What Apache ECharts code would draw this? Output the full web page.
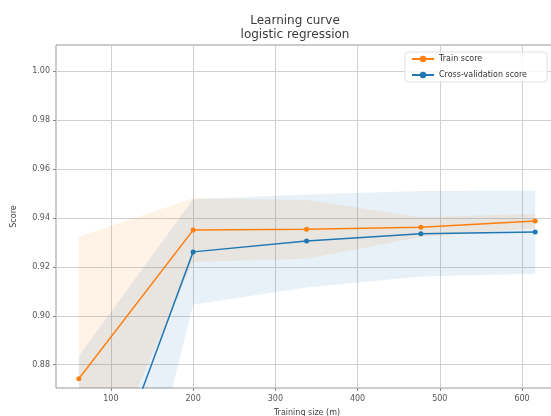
<!DOCTYPE html>
<html>
<head>
<meta charset="utf-8">
<script src="https://cdn.jsdelivr.net/npm/echarts@6/dist/echarts.min.js"></script>
<style>html,body{margin:0;padding:0;background:#fff}#c{width:551px;height:416px}</style>
</head>
<body>
<div id="c"></div>
<script>
const trainSizes = [61, 200, 338, 477, 616];
const trainMean = [0.8743, 0.9350, 0.9353, 0.9362, 0.9387];
const trainStd  = [0.058, 0.013, 0.012, 0.004, 0.003];
const cvMean    = [0.7996, 0.9261, 0.9305, 0.9335, 0.9342];
const cvStd     = [0.084, 0.0215, 0.019, 0.0175, 0.017];
const xTicks = [100, 200, 300, 400, 500, 600];
const yTicks = [0.88, 0.90, 0.92, 0.94, 0.96, 0.98, 1.00];

const ORANGE = '#ff7f0e', BLUE = '#1f77b4';
const pairs = (arr) => trainSizes.map((x, i) => [x, arr[i]]);

function bandSeries(name, mean, std, color) {
  return {
    name: name, type: 'custom', silent: true, z: 1,
    data: [[trainSizes[0], mean[0]]],
    renderItem: function (params, api) {
      const up = trainSizes.map((x, i) => api.coord([x, mean[i] + std[i]]));
      const lo = trainSizes.map((x, i) => api.coord([x, mean[i] - std[i]])).reverse();
      const cs = params.coordSys;
      return {
        type: 'polygon',
        shape: {points: up.concat(lo)},
        style: {fill: color, opacity: 0.1},
        clipPath: {type: 'rect', shape: {x: cs.x, y: cs.y, width: cs.width, height: cs.height}}
      };
    }
  };
}

const font = 'DejaVu Sans';
const chart = echarts.init(document.getElementById('c'), null, {renderer: 'canvas'});
chart.setOption({
  animation: false,
  backgroundColor: '#fff',
  title: {
    text: 'Learning curve\nlogistic regression',
    left: 290, top: 9, textAlign: 'center',
    textStyle: {fontFamily: font, fontSize: 12, fontWeight: 'normal', color: '#3a3a3a', lineHeight: 14}
  },
  legend: {
    data: ['Train score', 'Cross-validation score'],
    orient: 'vertical', left: 405, top: 52,
    itemWidth: 22, itemHeight: 8, itemGap: 8,
    backgroundColor: 'rgba(255,255,255,0.85)', borderColor: '#e0e0e0', borderWidth: 1, borderRadius: 3,
    padding: [3, 20, 3, 6],
    textStyle: {fontFamily: font, fontSize: 8, color: '#333'}
  },
  grid: {left: 56, right: -7, top: 45, bottom: 28, show: true, borderColor: '#999', borderWidth: 1,
         containLabel: false, outerBoundsMode: 'none'},
  xAxis: {
    type: 'value', min: 33.25, max: 643.75,
    name: 'Training size (m)', nameLocation: 'middle', nameGap: 21,
    nameTextStyle: {fontFamily: font, fontSize: 8, color: '#444'},
    axisLine: {show: false},
    axisTick: {show: true, customValues: xTicks, length: 3, lineStyle: {color: '#888'}},
    axisLabel: {customValues: xTicks, fontFamily: font, fontSize: 8, color: '#555', margin: 7},
    splitLine: {show: true, lineStyle: {color: '#d0d0d0', width: 1}}
  },
  yAxis: {
    type: 'value', min: 0.8705, max: 1.0106,
    name: 'Score', nameLocation: 'middle', nameGap: 38, nameRotate: 90,
    nameTextStyle: {fontFamily: font, fontSize: 8, color: '#444'},
    axisLine: {show: false},
    axisTick: {show: true, customValues: yTicks, length: 3, lineStyle: {color: '#888'}},
    axisLabel: {customValues: yTicks, fontFamily: font, fontSize: 8, color: '#555', margin: 6,
      formatter: v => v.toFixed(2)},
    splitLine: {show: true, lineStyle: {color: '#d0d0d0', width: 1}}
  },
  series: [
    bandSeries('trBand', trainMean, trainStd, ORANGE),
    bandSeries('cvBand', cvMean, cvStd, BLUE),
    {name: 'Train score', type: 'line', data: pairs(trainMean), color: ORANGE, z: 3,
     symbol: 'circle', symbolSize: 5, lineStyle: {width: 1.5, color: ORANGE}, itemStyle: {color: ORANGE}},
    {name: 'Cross-validation score', type: 'line', data: pairs(cvMean), color: BLUE, z: 3,
     symbol: 'circle', symbolSize: 5, lineStyle: {width: 1.5, color: BLUE}, itemStyle: {color: BLUE}}
  ]
});
</script>
</body>
</html>
